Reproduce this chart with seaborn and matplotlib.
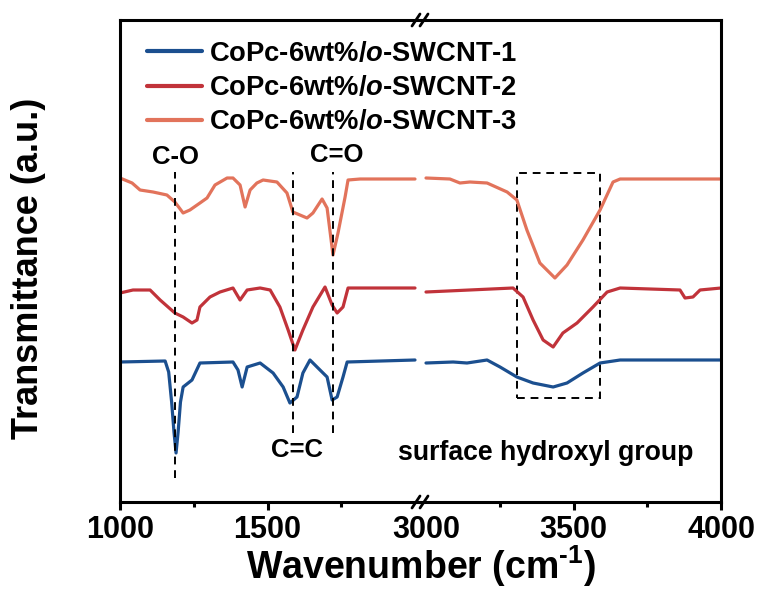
import numpy as np
import pandas as pd
import matplotlib
matplotlib.use("Agg")
import matplotlib.pyplot as plt
import seaborn as sns
from matplotlib.lines import Line2D
from matplotlib.patches import Rectangle

# ---------------- data ----------------
labels = ["CoPc-6wt%/$\\mathit{o}$-SWCNT-1",
          "CoPc-6wt%/$\\mathit{o}$-SWCNT-2",
          "CoPc-6wt%/$\\mathit{o}$-SWCNT-3"]
colors = ["#1B4F8F", "#C1333A", "#E2735B"]

# left segment (1000-2000 cm-1)
s1_left_wn = [1000, 1153, 1165, 1175, 1183, 1190, 1197, 1205, 1214, 1244, 1271, 1383, 1400, 1414,
              1431, 1475, 1519, 1553, 1576, 1600, 1620, 1644, 1678, 1702, 1719, 1736, 1756,
              1770, 2000]
s1_left_t = [1.40, 1.41, 1.30, 1.00, 0.70, 0.49, 0.70, 1.00, 1.15, 1.22, 1.39, 1.40, 1.32,
             1.15, 1.35, 1.39, 1.29, 1.15, 0.99, 1.05, 1.29, 1.42, 1.32, 1.25, 1.02, 1.05,
             1.25, 1.40, 1.42]

s2_left_wn = [1000, 1044, 1102, 1136, 1186, 1214, 1244, 1261, 1271, 1305, 1339, 1383, 1407,
              1431, 1475, 1509, 1542, 1570, 1593, 1620, 1654, 1695, 1719, 1736, 1756, 1773, 2000]
s2_left_t = [2.09, 2.12, 2.12, 2.02, 1.89, 1.85, 1.79, 1.82, 1.95, 2.05, 2.10, 2.14, 2.02,
             2.12, 2.14, 2.12, 1.95, 1.72, 1.52, 1.72, 1.95, 2.15, 1.97, 1.89, 1.95, 2.14, 2.14]

s3_left_wn = [1000, 1041, 1068, 1112, 1159, 1186, 1214, 1237, 1271, 1295, 1322, 1363, 1383,
              1407, 1424, 1441, 1464, 1485, 1532, 1566, 1586, 1610, 1634, 1654, 1685, 1702,
              1722, 1739, 1763, 1773, 1814, 2000]
s3_left_t = [3.24, 3.19, 3.12, 3.10, 3.07, 3.00, 2.89, 2.92, 2.99, 3.04, 3.17, 3.24, 3.24,
             3.17, 2.95, 3.12, 3.19, 3.22, 3.20, 3.09, 2.90, 2.87, 2.84, 2.89, 3.03, 2.94,
             2.47, 2.69, 3.05, 3.22, 3.23, 3.23]

# right segment (3000-4000 cm-1)
s1_right_wn = [3000, 3092, 3139, 3207, 3251, 3308, 3363, 3431, 3478, 3532, 3590, 3658, 4000]
s1_right_t = [1.39, 1.40, 1.39, 1.42, 1.35, 1.25, 1.19, 1.15, 1.19, 1.29, 1.39, 1.42, 1.42]

s2_right_wn = [3000, 3295, 3329, 3363, 3397, 3431, 3464, 3512, 3566, 3614, 3658, 3861, 3878,
               3905, 3929, 4000]
s2_right_t = [2.10, 2.14, 2.05, 1.82, 1.62, 1.55, 1.69, 1.79, 1.95, 2.10, 2.14, 2.12, 2.04,
              2.05, 2.12, 2.14]

s3_right_wn = [3000, 3081, 3115, 3149, 3207, 3275, 3308, 3342, 3386, 3437, 3478, 3532, 3590,
               3634, 3658, 4000]
s3_right_t = [3.24, 3.23, 3.19, 3.20, 3.19, 3.10, 3.02, 2.72, 2.39, 2.24, 2.37, 2.62, 2.92,
              3.20, 3.23, 3.23]

left_major = [1000, 1500]
left_minor = [1250, 1750]
right_major = [3000, 3500, 4000]
right_minor = [3250, 3750]

# annotation positions
band_wn = [1188, 1587, 1722]
band_labels = ["C-O", "C=C", "C=O"]
oh_box = [3307, 3591]

# ---------------- style ----------------
sns.set_theme(style="ticks")
plt.rcParams['font.family'] = ['Liberation Sans', 'DejaVu Sans']
plt.rcParams['font.weight'] = 'bold'
plt.rcParams['text.color'] = 'black'
plt.rcParams['axes.labelcolor'] = 'black'
plt.rcParams['xtick.color'] = 'black'
plt.rcParams['ytick.color'] = 'black'
plt.rcParams['mathtext.fontset'] = 'custom'
plt.rcParams['mathtext.it'] = 'Liberation Sans:italic:bold'
plt.rcParams['mathtext.bf'] = 'Liberation Sans:bold'
plt.rcParams['mathtext.rm'] = 'Liberation Sans:bold'
plt.rcParams['axes.linewidth'] = 2.2

W, H = 763, 595
fig = plt.figure(figsize=(W / 100, H / 100), dpi=100)
fig.patch.set_facecolor("white")


def fx(px):
    return px / W


def fy(py):
    return 1 - py / H


ax1 = fig.add_axes([fx(120), fy(502), (420 - 120) / W, 482 / H])
ax2 = fig.add_axes([fx(420), fy(502), (721 - 420) / W, 482 / H])

lw = 2.3
left_sets = [(s1_left_wn, s1_left_t), (s2_left_wn, s2_left_t), (s3_left_wn, s3_left_t)]
right_sets = [(s1_right_wn, s1_right_t), (s2_right_wn, s2_right_t), (s3_right_wn, s3_right_t)]
for (xw, yt), c, lab in zip(left_sets, colors, labels):
    sns.lineplot(x=xw, y=yt, ax=ax1, color=c, lw=lw, sort=False, estimator=None, label=lab)
for (xw, yt), c in zip(right_sets, colors):
    sns.lineplot(x=xw, y=yt, ax=ax2, color=c, lw=lw, sort=False, estimator=None)

ax1.set_xlim(1000, 1000 + 300 * 250 / 73.75)
ax2.set_xlim(4000 - 301 * 250 / 73.75, 4000)
for ax in (ax1, ax2):
    ax.set_ylim(0, 4.82)
    ax.set_yticks([])
    ax.set_facecolor("none")
    for s in ax.spines.values():
        s.set_color("black")
        s.set_linewidth(2.2)
ax1.spines['right'].set_visible(False)
ax2.spines['left'].set_visible(False)

ax1.set_xticks(left_major)
ax1.set_xticks(left_minor, minor=True)
ax2.set_xticks(right_major)
ax2.set_xticks(right_minor, minor=True)
for ax in (ax1, ax2):
    ax.tick_params(axis='x', which='major', length=6, width=2.2, direction='out',
                   labelsize=22, pad=3, colors='black')
    ax.tick_params(axis='x', which='minor', length=3.5, width=2.2, direction='out',
                   colors='black')
    ax.set_xlabel("")
    ax.set_ylabel("")
    for t in ax.get_xticklabels():
        t.set_fontweight('bold')
ax2.xaxis.get_major_ticks()[0].tick1line.set_visible(False)

# dashed band markers
dash = (0, (4, 3))
ax1.plot([band_wn[0]] * 2, [0.24, 3.30], color='black', lw=1.4, ls=dash)
ax1.plot([band_wn[1]] * 2, [0.69, 3.30], color='black', lw=1.4, ls=dash)
ax1.plot([band_wn[2]] * 2, [0.69, 3.30], color='black', lw=1.4, ls=dash)
ax1.text(band_wn[0], 3.45, band_labels[0], ha='center', va='center', fontsize=18.5, fontweight='bold')
ax1.text(1600, 0.52, band_labels[1], ha='center', va='center', fontsize=18.5, fontweight='bold')
ax1.text(1736, 3.47, band_labels[2], ha='center', va='center', fontsize=18.5, fontweight='bold')

ax2.add_patch(Rectangle((oh_box[0], 1.04), oh_box[1] - oh_box[0], 3.29 - 1.04,
                        fill=False, ec='black', lw=1.4, ls=dash))
ax2.text(3405, 0.49, "surface hydroxyl group", ha='center', va='center', fontsize=19.2,
         fontweight='bold')

# axis break marks
for yy in (20, 502):
    for xx in (416, 424):
        fig.add_artist(Line2D([fx(xx - 4), fx(xx + 4)], [fy(yy + 6), fy(yy - 6)],
                              color='black', lw=2.0, transform=fig.transFigure))

# legend
leg = ax1.legend(loc='upper left', bbox_to_anchor=(fx(147), fy(41)),
                 bbox_transform=fig.transFigure, frameon=False, fontsize=19.7,
                 handlelength=2.0, handletextpad=0.25, labelspacing=0.3, borderpad=0,
                 borderaxespad=0)
for t in leg.get_texts():
    t.set_fontweight('bold')
    t.set_color('black')
for h in leg.get_lines():
    h.set_linewidth(3)

fig.text(fx(29), fy(268), "Transmittance (a.u.)", rotation=90, ha='center', va='center',
         fontsize=26, fontweight='bold')
fig.text(fx(421), fy(566), "Wavenumber (cm$^{\\text{-1}}$)", ha='center', va='center',
         fontsize=27, fontweight='bold')

fig.savefig("out.png", dpi=100, facecolor="white")
